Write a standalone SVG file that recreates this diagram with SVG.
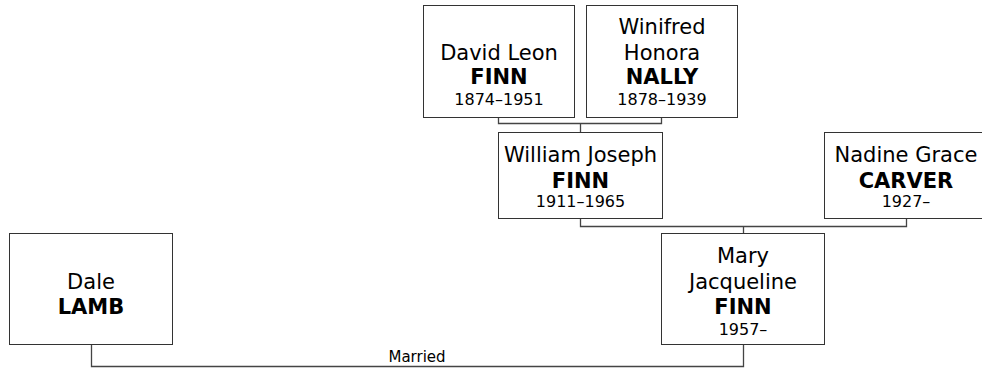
<svg xmlns="http://www.w3.org/2000/svg" width="982" height="368" viewBox="0 0 982 368">
<style>
.box{fill:#fff;stroke:#333;stroke-width:1}
.link{fill:none;stroke:#444;stroke-width:1.3}
text{font-family:"DejaVu Sans",Verdana,sans-serif;fill:#000;text-anchor:middle}
.n{font-size:21px}
.s{font-size:21px;font-weight:bold}
.d{font-size:16px}
.lbl{font-size:15px}
</style>
<rect width="982" height="368" fill="#fff"/>
<g id="connectors">
<path class="link" d="M498.5,117.5 V123.5 H661.5 V117.5 M580.5,123.5 V132.5"/>
<path class="link" d="M580.5,218.5 V226.5 H906.5 V218.5 M743.5,226.5 V233.5"/>
<path class="link" d="M91.5,344.5 V366.5 H743.5 V344.5"/>
<text class="lbl" x="417" y="362">Married</text>
</g>
<g id="david">
<rect class="box" x="423.5" y="5.5" width="151" height="112"/>
<text class="n" x="499" y="60">David Leon</text>
<text class="s" x="499" y="84">FINN</text>
<text class="d" x="499" y="105">1874–1951</text>
</g>
<g id="winifred">
<rect class="box" x="586.5" y="5.5" width="151" height="112"/>
<text class="n" x="662" y="34">Winifred</text>
<text class="n" x="662" y="60">Honora</text>
<text class="s" x="662" y="84">NALLY</text>
<text class="d" x="662" y="105">1878–1939</text>
</g>
<g id="william">
<rect class="box" x="498.5" y="132.5" width="164" height="86"/>
<text class="n" x="580.5" y="162">William Joseph</text>
<text class="s" x="580.5" y="188">FINN</text>
<text class="d" x="580.5" y="207">1911–1965</text>
</g>
<g id="nadine">
<rect class="box" x="824.5" y="132.5" width="164" height="86"/>
<text class="n" x="906" y="162">Nadine Grace</text>
<text class="s" x="906" y="188">CARVER</text>
<text class="d" x="906" y="207">1927–</text>
</g>
<g id="mary">
<rect class="box" x="661.5" y="233.5" width="163" height="111"/>
<text class="n" x="743" y="263">Mary</text>
<text class="n" x="743" y="289">Jacqueline</text>
<text class="s" x="743" y="314">FINN</text>
<text class="d" x="743" y="335">1957–</text>
</g>
<g id="dale">
<rect class="box" x="9.5" y="233.5" width="163" height="111"/>
<text class="n" x="91" y="289">Dale</text>
<text class="s" x="91" y="314">LAMB</text>
</g>
</svg>
